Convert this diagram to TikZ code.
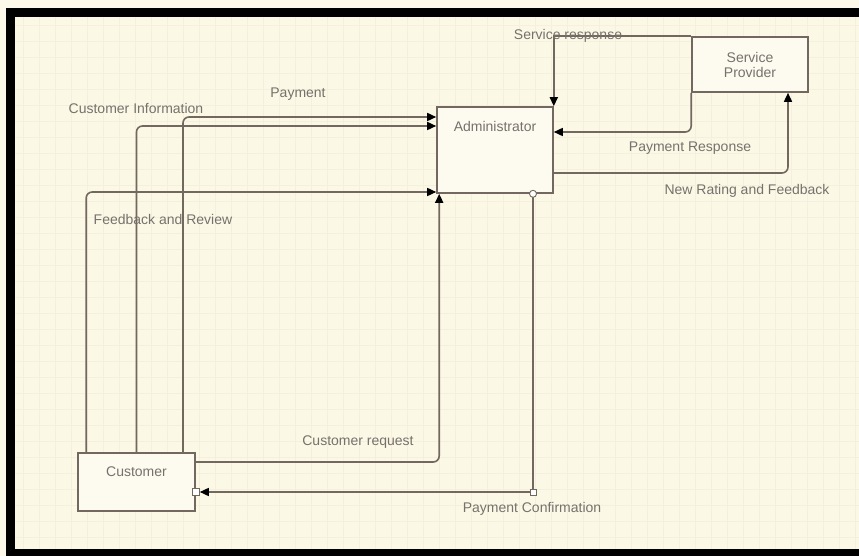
\documentclass[tikz,border=0pt]{standalone}
\usepackage{fontspec}
\setmainfont{Liberation Sans}
\usetikzlibrary{arrows.meta}

\definecolor{paper}{HTML}{FDF9EA}
\definecolor{sheet}{HTML}{FCF8E6}
\definecolor{gridln}{HTML}{F5F0DE}
\definecolor{wire}{HTML}{726860}
\definecolor{ink}{HTML}{77716C}
\definecolor{boxfill}{HTML}{FDFAF0}

\begin{document}
\begin{tikzpicture}[x=1pt,y=-1pt,
  box/.style={draw=wire, line width=1.6pt, fill=boxfill, inner sep=0pt},
  lbl/.style={text=ink, font=\fontsize{14}{15}\selectfont, inner sep=0pt},
  flow/.style={draw=wire, line width=1.6pt, rounded corners=6pt,
    -{Triangle[length=9pt,width=8pt,color=black]}},
  port/.style={draw=wire, line width=0.9pt, fill=white},
]
% page and frame
\useasboundingbox (0,0) rectangle (859,556);
\clip (0,0) rectangle (859,556);
\fill[paper] (0,0) rectangle (859,556);
\fill[black] (6,8) rectangle (880,580);
\fill[sheet] (15,17) rectangle (880,549);
% faint background grid
\foreach \gx in {23,39,...,859} \draw[gridln, line width=0.5pt] (\gx,17) -- (\gx,549);
\foreach \gy in {25,41,...,549} \draw[gridln, line width=0.5pt] (15,\gy) -- (859,\gy);

% entities
\node[box, minimum width=116pt, minimum height=86pt,
  label={[lbl, anchor=center, yshift=-20pt]north:Administrator}] (admin) at (495,150) {};
\node[box, minimum width=116pt, minimum height=55pt, align=center,
  text=ink, font=\fontsize{14}{15}\selectfont] (sp) at (750,64.5) {Service\\Provider};
\node[box, minimum width=117pt, minimum height=58pt,
  label={[lbl, anchor=center, yshift=-19pt]north:Customer}] (cust) at (136.5,482) {};

% flows between customer and administrator
\draw[flow] ([xshift=46.5pt]cust.north) |- ([yshift=33pt]admin.west);
\draw[flow] (cust.north) |- ([yshift=24pt]admin.west);
\draw[flow] ([xshift=9pt]cust.north west) |- ([yshift=-42pt]admin.west);
\draw[flow] ([yshift=20pt]cust.east) -| ([xshift=3pt]admin.south west);

% payment confirmation back to the customer
\coordinate (pcA) at ([xshift=38pt]admin.south);
\coordinate (pcB) at ([yshift=-10pt]cust.east);
\draw[flow, rounded corners=0pt, shorten >=4pt] (pcA) |- (pcB);
\coordinate (pcC) at (pcA |- pcB);
\draw[port] (pcA) circle (3.5pt);
\draw[port] ([xshift=-3pt,yshift=-3pt]pcC) rectangle ([xshift=3pt,yshift=3pt]pcC);
\draw[port] ([xshift=-3.5pt,yshift=-3.5pt]pcB) rectangle ([xshift=3.5pt,yshift=3.5pt]pcB);

% flows between administrator and service provider
\draw[flow, rounded corners=0pt] (sp.north west) -| (admin.north east);
\draw[flow] (sp.south west) |- ([yshift=18pt]admin.east);
\draw[flow] ([yshift=-23pt]admin.east) -| ([xshift=38pt]sp.south);

% flow labels
\node[lbl] (lci) at (136,108) {Customer Information};
\node[lbl] (lpay) at (298,94) {Payment};
\node[lbl] (lfr) at (163,219) {Feedback and Review};
\node[lbl] (lcr) at (358,442) {Customer request};
\node[lbl] (lpc) at (532,509) {Payment Confirmation};
\node[lbl] (lpr) at (690,148) {Payment Response};
\node[lbl] (lnr) at (747,191) {New Rating and Feedback};
\node[lbl] (lsr) at (568,36) {Service response};
\end{tikzpicture}
\end{document}
